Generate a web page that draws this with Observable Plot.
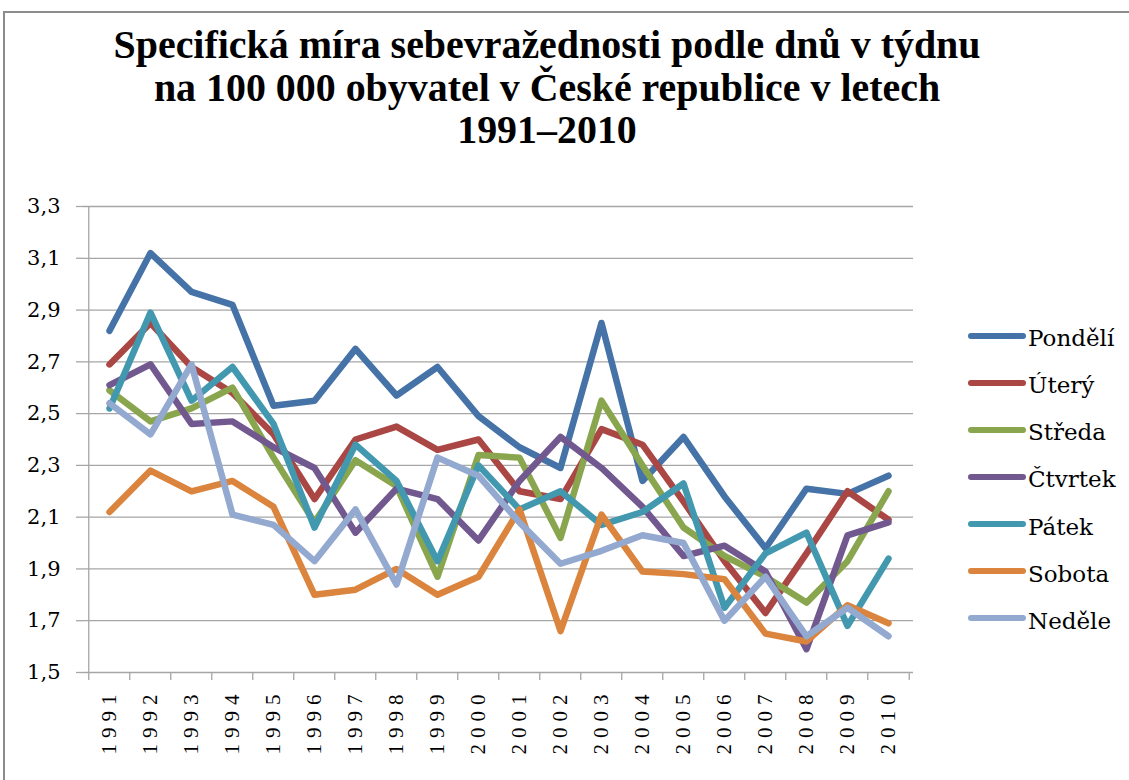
<!DOCTYPE html>
<html>
<head>
<meta charset="utf-8">
<script src="https://cdn.jsdelivr.net/npm/d3@7"></script>
<script src="https://cdn.jsdelivr.net/npm/@observablehq/plot@0.6"></script>
<style>
  html, body { margin: 0; padding: 0; background: #fff; overflow: hidden; }
  #wrap { position: relative; width: 1129px; height: 780px; overflow: hidden; background: #fff; }
  #border { position: absolute; left: 3px; top: 11px; width: 1300px; height: 1000px; border: 2px solid #8c8c8c; box-sizing: border-box; z-index: 3; pointer-events: none; }
  #chart { position: absolute; left: 0; top: 0; z-index: 1; }
  #title { position: absolute; left: 0; width: 1094px; top: 24px; text-align: center; font-family: "Liberation Serif", serif; font-weight: bold; line-height: 42.5px; color: #000; z-index: 2; }
  .leg { position: absolute; left: 966px; height: 47px; font-family: "DejaVu Serif", serif; font-size: 23px; line-height: 47px; color: #000; z-index: 2; white-space: nowrap; }
  .leg svg { position: absolute; left: 0; top: 16.7px; }
  .leg span { position: absolute; left: 62px; top: 0; }
  g[aria-label="x-axis tick label"] text { letter-spacing: 6px; }
</style>
</head>
<body>
<div id="wrap">
  <div id="chart"></div>
  <div id="title"></div>
  <div id="border"></div>
</div>
<script>
// ---- data ----
const titleLines = [
  "Specifická míra sebevražednosti podle dnů v týdnu",
  "na 100 000 obyvatel v České republice v letech",
  "1991–2010"
];
const years = ["1991","1992","1993","1994","1995","1996","1997","1998","1999","2000",
               "2001","2002","2003","2004","2005","2006","2007","2008","2009","2010"];
const days = ["Pondělí", "Úterý", "Středa", "Čtvrtek", "Pátek", "Sobota", "Neděle"];
const pondeli = [2.82, 3.12, 2.97, 2.92, 2.53, 2.55, 2.75, 2.57, 2.68, 2.49, 2.37, 2.29, 2.85, 2.24, 2.41, 2.18, 1.98, 2.21, 2.19, 2.26];
const utery   = [2.69, 2.85, 2.68, 2.58, 2.42, 2.17, 2.40, 2.45, 2.36, 2.40, 2.20, 2.17, 2.44, 2.38, 2.16, 1.93, 1.73, 1.96, 2.20, 2.09];
const streda  = [2.59, 2.47, 2.52, 2.60, 2.33, 2.08, 2.32, 2.22, 1.87, 2.34, 2.33, 2.02, 2.55, 2.30, 2.06, 1.95, 1.87, 1.77, 1.93, 2.20];
const ctvrtek = [2.61, 2.69, 2.46, 2.47, 2.37, 2.29, 2.04, 2.21, 2.17, 2.01, 2.24, 2.41, 2.29, 2.14, 1.95, 1.99, 1.89, 1.59, 2.03, 2.08];
const patek   = [2.52, 2.89, 2.55, 2.68, 2.46, 2.06, 2.38, 2.24, 1.93, 2.30, 2.13, 2.20, 2.07, 2.12, 2.23, 1.75, 1.96, 2.04, 1.68, 1.94];
const sobota  = [2.12, 2.28, 2.20, 2.24, 2.14, 1.80, 1.82, 1.90, 1.80, 1.87, 2.13, 1.66, 2.11, 1.89, 1.88, 1.86, 1.65, 1.62, 1.76, 1.69];
const nedele  = [2.54, 2.42, 2.69, 2.11, 2.07, 1.93, 2.13, 1.84, 2.33, 2.26, 2.08, 1.92, 1.97, 2.03, 2.00, 1.70, 1.87, 1.64, 1.75, 1.64];
const yTicks = [1.5, 1.7, 1.9, 2.1, 2.3, 2.5, 2.7, 2.9, 3.1, 3.3];

// ---- styles ----
const colors = ["#4572A7", "#AA4643", "#89A54E", "#71588F", "#4198AF", "#DB843D", "#93A9CF"];
const series = [pondeli, utery, streda, ctvrtek, patek, sobota, nedele];
const rows = [];
days.forEach((day, i) => series[i].forEach((v, j) => rows.push({year: years[j], day, value: v})));

const W = 1129, H = 780, mL = 83, mR = 216, mT = 206, mB = 108;
const half = (W - mL - mR) / years.length / 2;
const grid = "#a6a6a6";
const fmt = d => d.toFixed(1).replace(".", ",");

const plot = Plot.plot({
  width: W, height: H,
  marginLeft: mL, marginRight: mR, marginTop: mT, marginBottom: mB,
  style: {background: "transparent", color: "#000", fontFamily: "DejaVu Serif", fontSize: "21px"},
  x: {type: "point", domain: years, padding: 0.5, axis: null, label: null},
  y: {domain: [1.5, 3.3], axis: null, label: null},
  color: {domain: days, range: colors},
  marks: [
    Plot.gridY(yTicks, {stroke: grid, strokeOpacity: 1, strokeWidth: 1.3}),
    Plot.ruleX([years[0]], {dx: -half, y1: 1.5, y2: 3.3, stroke: grid, strokeWidth: 1.3}),
    Plot.axisY(yTicks, {label: null, tickSize: 7, tickPadding: 16, tickFormat: fmt, stroke: grid, strokeWidth: 1.3, fill: "#000", fontSize: 21, fontFamily: "DejaVu Serif"}),
    Plot.axisX(years, {label: null, tickSize: 8, tickFormat: () => "", dx: -half, stroke: grid, strokeWidth: 1.3}),
    Plot.axisX([years[years.length - 1]], {label: null, tickSize: 8, tickFormat: () => "", dx: half, stroke: grid, strokeWidth: 1.3}),
    Plot.axisX(years, {label: null, tickSize: 0, tickPadding: 16, tickRotate: -90, fill: "#000", fontSize: 21, fontFamily: "Liberation Serif"}),
    Plot.line(rows, {x: "year", y: "value", z: "day", stroke: "day", strokeWidth: 6.5, strokeLinejoin: "round", strokeLinecap: "round"})
  ]
});
document.getElementById("chart").appendChild(plot);

// ---- title ----
const titleEl = document.getElementById("title");
const ctx = document.createElement("canvas").getContext("2d");
ctx.font = "bold 40px 'Liberation Serif'";
const w0 = ctx.measureText(titleLines[0]).width;
titleEl.style.fontSize = (40 * 867 / w0).toFixed(2) + "px";
titleLines.forEach(t => { const d = document.createElement("div"); d.textContent = t; titleEl.appendChild(d); });

// ---- legend ----
const wrap = document.getElementById("wrap");
const legTop = 336, legStep = 47.05;
days.forEach((day, i) => {
  const item = document.createElement("div");
  item.className = "leg";
  item.style.top = (legTop + i * legStep - 20.7) + "px";
  item.innerHTML = `<svg width="62" height="8"><line x1="5" y1="4" x2="57" y2="4" stroke="${colors[i]}" stroke-width="6" stroke-linecap="round"/></svg><span></span>`;
  item.querySelector("span").textContent = day;
  wrap.appendChild(item);
});
</script>
</body>
</html>
